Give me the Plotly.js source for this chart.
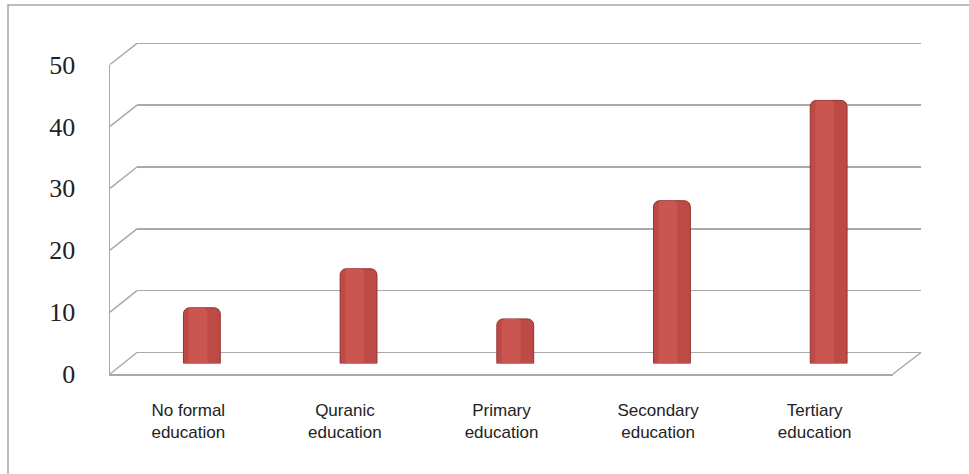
<!DOCTYPE html>
<html><head><meta charset="utf-8">
<script src="https://cdn.plot.ly/plotly-3.0.1.min.js"></script>
<style>html,body{margin:0;padding:0;background:#fff}#chart{width:969px;height:474px}</style>
</head><body><div id="chart"></div>
<script>
// ---- data ----
const categories = ["No formal<br>education", "Quranic<br>education", "Primary<br>education", "Secondary<br>education", "Tertiary<br>education"];
const values = [9.0, 15.3, 7.2, 26.3, 42.5];
const tickValues = [0, 10, 20, 30, 40, 50];
const tickLabels = ["0", "10", "20", "30", "40", "50"];

// ---- layout geometry (pixel design of a 3D-look chart) ----
const W = 969, H = 474;
const px = x => x / W;
const py = y => 1 - y / H;
const back  = {x0: 137,   x1: 921, y0: 352.5, y1: 43.3};
const front = {x0: 110,   x1: 893, y0: 374,   y1: 64.5};
const mid   = {x0: 123.5, x1: 907, y0: 363.5, y1: 54};
const ymax = 50;
const pad = 1;   // small range padding so the 0 and 50 gridlines are drawn
const backUnit = (back.y0 - back.y1) / ymax;
const gridColor = '#A9A9A9';

const idx = categories.map((c, i) => i);

const traces = [
  // invisible anchors so the back wall and front plane axes are drawn
  {type: 'scatter', x: idx, y: values, xaxis: 'x', yaxis: 'y', mode: 'markers',
   marker: {size: 1, opacity: 0}, hoverinfo: 'skip'},
  {type: 'scatter', x: idx, y: values, xaxis: 'x2', yaxis: 'y2', mode: 'markers',
   marker: {size: 1, opacity: 0}, hoverinfo: 'skip'},
  {type: 'bar', x: categories, y: values, xaxis: 'x3', yaxis: 'y3', width: 0.235,
   marker: {color: '#BE4A46', line: {color: '#93312E', width: 1}, cornerradius: 6},
   hoverinfo: 'skip'},
  {type: 'bar', x: categories, y: values, xaxis: 'x3', yaxis: 'y3', width: 0.12, offset: -0.085,
   marker: {color: '#CB5651', line: {width: 0}, cornerradius: 4},
   hoverinfo: 'skip'}
];

// perspective connectors from the front axis to the back wall
const shapes = tickValues.map(v => ({
  type: 'line', xref: 'paper', yref: 'paper',
  x0: px(front.x0), y0: py(front.y0 + (front.y1 - front.y0) * v / ymax),
  x1: px(back.x0),  y1: py(back.y0 + (back.y1 - back.y0) * v / ymax),
  line: {color: gridColor, width: 1.5}
}));
shapes.push({type: 'line', xref: 'paper', yref: 'paper',
  x0: px(front.x1), y0: py(front.y0), x1: px(back.x1), y1: py(back.y0),
  line: {color: gridColor, width: 1.5}});
shapes.push({type: 'rect', xref: 'paper', yref: 'paper',
  x0: px(8), y0: -0.02, x1: 1.02, y1: py(5),
  line: {color: '#A6A6A6', width: 1.5}, layer: 'below'});

const layout = {
  width: W, height: H,
  margin: {l: 0, r: 0, t: 0, b: 0},
  paper_bgcolor: '#FFFFFF', plot_bgcolor: 'rgba(0,0,0,0)',
  showlegend: false, hovermode: false, barmode: 'overlay',
  // back wall (gridlines)
  xaxis: {domain: [px(back.x0), px(back.x1)], range: [-0.5, categories.length - 0.5],
          showgrid: false, zeroline: false, showline: false, showticklabels: false, ticks: '',
          anchor: 'y', fixedrange: true},
  yaxis: {domain: [py(back.y0 + pad * backUnit), py(back.y1 - pad * backUnit)], range: [-pad, ymax + pad], anchor: 'x',
          tickvals: tickValues, showticklabels: false, showgrid: true,
          gridcolor: gridColor, gridwidth: 1.5, zeroline: false, showline: false, ticks: '', fixedrange: true},
  // front plane (labels and axis lines)
  xaxis2: {domain: [px(front.x0), px(front.x1)], range: [-0.5, categories.length - 0.5], anchor: 'y2',
           tickvals: idx, ticktext: categories, showgrid: false, zeroline: false,
           showline: true, linecolor: gridColor, linewidth: 1.5, ticks: '',
           ticklabelstandoff: 20,
           tickfont: {family: 'Liberation Sans, Arial, sans-serif', size: 17, color: '#222222'}, fixedrange: true},
  yaxis2: {domain: [py(front.y0), py(front.y1)], range: [0, ymax], anchor: 'x2',
           tickvals: tickValues, ticktext: tickLabels, showgrid: false, zeroline: false,
           showline: true, linecolor: gridColor, linewidth: 1.5, ticks: '',
           ticklabelstandoff: 28,
           tickfont: {family: 'Liberation Serif, Times New Roman, serif', size: 26, color: '#222222'}, fixedrange: true},
  // middle plane (bars)
  xaxis3: {domain: [px(mid.x0), px(mid.x1)], type: 'category', range: [-0.5, categories.length - 0.5],
           anchor: 'y3', visible: false, fixedrange: true},
  yaxis3: {domain: [py(mid.y0), py(mid.y1)], range: [0, ymax], anchor: 'x3', visible: false, fixedrange: true},
  shapes: shapes
};

Plotly.newPlot('chart', traces, layout, {displayModeBar: false, staticPlot: true});
</script>
</body></html>
